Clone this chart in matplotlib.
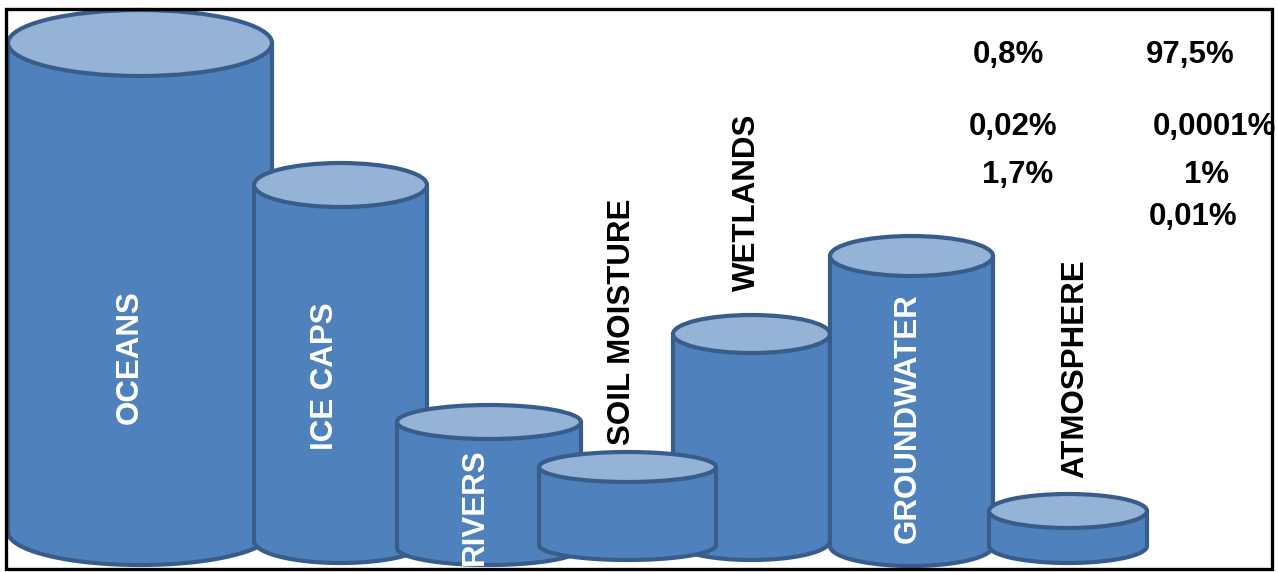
import numpy as np
import matplotlib
matplotlib.use("Agg")
import matplotlib.pyplot as plt
from matplotlib.patches import Ellipse, Polygon, Rectangle

# water stores, drawn as cylinders (left to right)
names = ["OCEANS", "ICE CAPS", "RIVERS", "SOIL MOISTURE",
         "WETLANDS", "GROUNDWATER", "ATMOSPHERE"]
levels = [489, 356, 126, 78, 207, 290, 35]   # height of each cylinder

# percentage labels in the upper right corner
pct_labels = ["0,8%", "97,5%", "0,02%", "0,0001%", "1,7%", "1%", "0,01%"]

# layout (pixel units of the 1278x572 canvas, y grows downwards)
x_left = [8, 254, 397, 539, 673, 830, 989]
x_right = [272, 427, 581, 716, 830, 993, 1147]
base_y = [532, 541, 548, 545, 541, 546, 546]
rim = [33, 22, 17, 15, 19, 20, 17]            # half height of the ellipses
draw_order = [0, 1, 2, 4, 3, 5, 6]
label_pos = [(130, 357), (325, 376), (475, 507), (622, 322),
             (747, 202), (908, 418), (1075, 369)]
label_col = ["white", "white", "white", "black", "black", "white", "black"]
pct_pos = [(1008, 55), (1190, 55), (1013, 127), (1214, 127),
           (1018, 175), (1207, 175), (1193, 217)]

BODY = "#4f81bd"
TOP = "#95b3d7"
EDGE = "#385d8a"
FONT = "Liberation Sans"

fig = plt.figure(figsize=(12.78, 5.72), dpi=100)
ax = fig.add_axes([0, 0, 1, 1])
ax.set_xlim(0, 1278)
ax.set_ylim(572, 0)
ax.axis("off")

for z, i in enumerate(draw_order):
    xl, xr = x_left[i], x_right[i]
    cx, w = (xl + xr) / 2, xr - xl
    yb = base_y[i]
    yt = yb - levels[i]
    r = rim[i]
    # front half of the bottom ellipse, left to right
    t = np.linspace(np.pi, 0, 80)
    arc = np.column_stack([cx + np.cos(t) * w / 2, yb + np.sin(t) * r])
    pts = np.vstack([[xl, yt], arc, [xr, yt]])
    ax.add_patch(Polygon(pts, closed=True, facecolor=BODY, edgecolor=EDGE,
                         lw=3.0, joinstyle="round", zorder=2 * z + 1))
    ax.add_patch(Ellipse((cx, yt), w, 2 * r, facecolor=TOP, edgecolor=EDGE,
                         lw=3.0, zorder=2 * z + 1.5))

for i, name in enumerate(names):
    x, y = label_pos[i]
    ax.text(x, y, name, rotation=90, ha="center", va="center",
            color=label_col[i], fontsize=22.5, fontweight="bold",
            family=FONT, zorder=20)

frame = Rectangle((5.5, 8.5), 1266.5, 560.5, fill=False, edgecolor="black",
                  lw=2.4, zorder=30)
ax.add_patch(frame)

for s, (x, y) in zip(pct_labels, pct_pos):
    txt = ax.text(x, y, s, ha="center", va="center", color="black",
                  fontsize=22.5, fontweight="bold", family=FONT, zorder=20)
    txt.set_clip_path(frame)

fig.savefig("out.png", dpi=100)
